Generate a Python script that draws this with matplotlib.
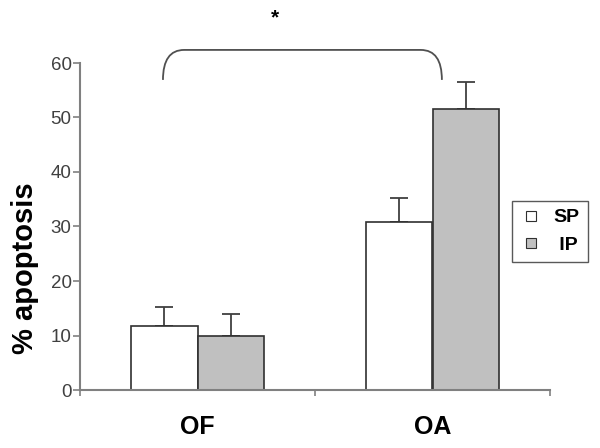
import numpy as np
import matplotlib.pyplot as plt
from matplotlib.path import Path
from matplotlib.patches import PathPatch
from matplotlib.lines import Line2D

plt.rcParams['font.family'] = ['Liberation Sans', 'DejaVu Sans']

# data
groups = ["OF", "OA"]
series = ["SP", " IP"]
sp_mean = [11.7, 30.9]
sp_err = [3.5, 4.4]
ip_mean = [9.9, 51.5]
ip_err = [4.0, 5.1]
colors = ["white", "#c0c0c0"]
yticks = [0, 10, 20, 30, 40, 50, 60]


def main():
    fig = plt.figure(figsize=(6, 4.48), dpi=100)
    ax = fig.add_axes([80 / 600, 1 - 390 / 448, 470 / 600, 327 / 448])

    x = np.arange(len(groups))
    w = 0.285
    edge = "#303030"
    ax.bar(x - w / 2, sp_mean, w, color=colors[0], edgecolor=edge, linewidth=1.2, zorder=2)
    ax.bar(x + w / 2, ip_mean, w, color=colors[1], edgecolor=edge, linewidth=1.2, zorder=2)

    # upper error bars only
    ax.errorbar(x - w / 2, sp_mean, yerr=[np.zeros(2), sp_err], fmt="none",
                ecolor="#404040", elinewidth=1.3, capsize=6.5, capthick=1.3, zorder=1)
    ax.errorbar(x + w / 2, ip_mean, yerr=[np.zeros(2), ip_err], fmt="none",
                ecolor="#404040", elinewidth=1.3, capsize=6.5, capthick=1.3, zorder=1)

    ax.set_xlim(-0.5, 1.5)
    ax.set_ylim(0, 60)
    ax.set_yticks(yticks)
    ax.set_xticks(x)
    ax.set_xticklabels(groups, fontsize=18, fontweight="bold")
    ax.set_xticks([-0.5, 0.5, 1.5], minor=True)
    ax.tick_params(axis="x", which="major", length=0, pad=18)
    ax.tick_params(axis="x", which="minor", length=4, color="#808080", width=1.2)
    ax.tick_params(axis="y", length=5, color="#808080", width=1.2,
                   labelsize=13.5, labelcolor="#404040", pad=1)
    for s in ["top", "right"]:
        ax.spines[s].set_visible(False)
    for s in ["left", "bottom"]:
        ax.spines[s].set_color("#808080")
        ax.spines[s].set_linewidth(1.5)

    ax.set_ylabel("% apoptosis", fontsize=21, fontweight="bold")
    ax.yaxis.set_label_coords(-0.088, 0.373)

    # significance bracket
    x0, x1 = -0.147, 1.04
    yb, yt = 56.9, 62.4
    dx = 0.09
    verts = [(x0, yb), (x0, yt), (x0 + dx, yt),
             (x1 - dx, yt), (x1, yt), (x1, yb)]
    codes = [Path.MOVETO, Path.CURVE3, Path.CURVE3,
             Path.LINETO, Path.CURVE3, Path.CURVE3]
    ax.add_patch(PathPatch(Path(verts, codes), fill=False, edgecolor="#505050",
                           linewidth=1.3, clip_on=False))
    ax.text(0.33, 68.3, "*", ha="center", va="center", fontsize=15,
            fontweight="bold", clip_on=False)

    handles = [Line2D([], [], marker="s", linestyle="none", markersize=6.5,
                      markerfacecolor=c, markeredgecolor="#303030", markeredgewidth=0.8)
               for c in colors]
    leg = fig.legend(handles, series, loc="upper left",
                     bbox_to_anchor=(512 / 600, 1 - 201 / 448),
                     borderaxespad=0, frameon=True, fancybox=False,
                     handletextpad=0.55, borderpad=0.4, labelspacing=0.5,
                     handlelength=1.2, prop={"weight": "bold", "size": 14})
    leg.get_frame().set_edgecolor("#303030")
    leg.get_frame().set_linewidth(1.0)

    fig.savefig("out.png", dpi=100)


if __name__ == "__main__":
    main()
